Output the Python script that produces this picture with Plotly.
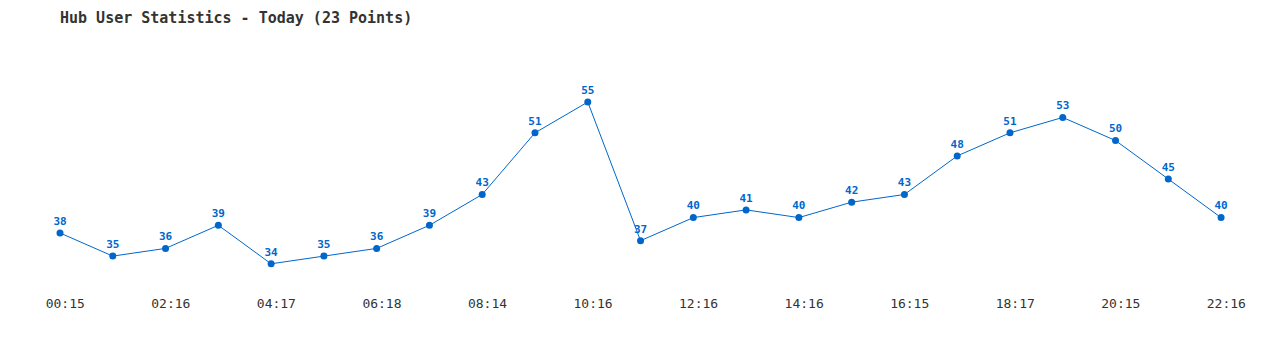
import plotly.graph_objects as go

values = [38, 35, 36, 39, 34, 35, 36, 39, 43, 51, 55, 37, 40, 41, 40, 42, 43, 48, 51, 53, 50, 45, 40]
tick_labels = ["00:15", "02:16", "04:17", "06:18", "08:14", "10:16",
               "12:16", "14:16", "16:15", "18:17", "20:15", "22:16"]
tick_index = list(range(0, 23, 2))
title_text = "Hub User Statistics - Today (23 Points)"

blue = "#0066CC"
mono = "DejaVu Sans Mono, Liberation Mono, monospace"

x = list(range(len(values)))

fig = go.Figure()
fig.add_trace(go.Scatter(
    x=x, y=values,
    mode="lines+markers+text",
    line=dict(color=blue, width=1),
    marker=dict(color=blue, size=7),
    text=[str(v) for v in values],
    textposition="top center",
    textfont=dict(family=mono, size=11, color=blue, weight="bold"),
    cliponaxis=False,
    hoverinfo="x+y",
))

fig.update_layout(
    width=1280, height=350,
    margin=dict(l=60, r=51, t=40, b=60),
    paper_bgcolor="white", plot_bgcolor="white",
    showlegend=False,
    title=dict(text=title_text, x=60/1280, xanchor="left", y=1 - 18/350, yanchor="middle",
               font=dict(family=mono, size=15, color="#333333", weight="bold")),
    xaxis=dict(range=[0, 22.15], showgrid=False, zeroline=False, showline=False,
               tickmode="array", tickvals=[i + 0.1 for i in tick_index], ticktext=tick_labels,
               tickfont=dict(family=mono, size=13, color="#333333"), ticks="", ticklabelstandoff=4),
    yaxis=dict(range=[30.6, 63.05], showgrid=False, zeroline=False, showline=False,
               showticklabels=False, ticks=""),
)

fig.write_html("out.html")
